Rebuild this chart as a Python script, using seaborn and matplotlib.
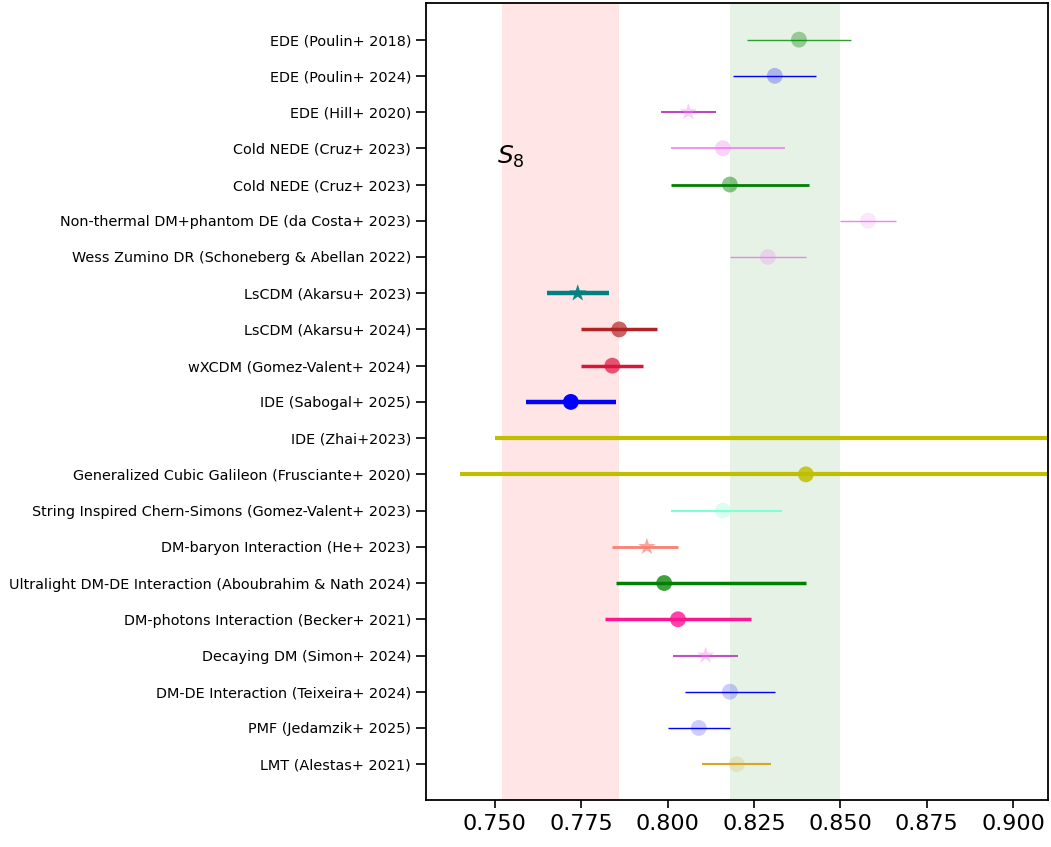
import numpy as np
import pandas as pd
import seaborn as sns
import matplotlib
matplotlib.use("Agg")
import matplotlib.pyplot as plt

labels = [
    "EDE (Poulin+ 2018)",
    "EDE (Poulin+ 2024)",
    "EDE (Hill+ 2020)",
    "Cold NEDE (Cruz+ 2023)",
    "Cold NEDE (Cruz+ 2023)",
    "Non-thermal DM+phantom DE (da Costa+ 2023)",
    "Wess Zumino DR (Schoneberg & Abellan 2022)",
    "LsCDM (Akarsu+ 2023)",
    "LsCDM (Akarsu+ 2024)",
    "wXCDM (Gomez-Valent+ 2024)",
    "IDE (Sabogal+ 2025)",
    "IDE (Zhai+2023)",
    "Generalized Cubic Galileon (Frusciante+ 2020)",
    "String Inspired Chern-Simons (Gomez-Valent+ 2023)",
    "DM-baryon Interaction (He+ 2023)",
    "Ultralight DM-DE Interaction (Aboubrahim & Nath 2024)",
    "DM-photons Interaction (Becker+ 2021)",
    "Decaying DM (Simon+ 2024)",
    "DM-DE Interaction (Teixeira+ 2024)",
    "PMF (Jedamzik+ 2025)",
    "LMT (Alestas+ 2021)",
]
s8 = [0.838, 0.831, 0.806, 0.816, 0.818, 0.858, 0.829, 0.774, 0.786, 0.784, 0.772,
      0.950, 0.840, 0.816, 0.794, 0.799, 0.803, 0.811, 0.818, 0.809, 0.820]
err_lo = [0.015, 0.012, 0.008, 0.015, 0.017, 0.008, 0.011, 0.009, 0.011, 0.009, 0.013,
          0.200, 0.100, 0.015, 0.010, 0.014, 0.021, 0.0095, 0.013, 0.009, 0.010]
err_hi = [0.015, 0.012, 0.008, 0.018, 0.023, 0.008, 0.011, 0.009, 0.011, 0.009, 0.013,
          0.050, 0.100, 0.017, 0.009, 0.041, 0.021, 0.0095, 0.013, 0.009, 0.010]
marker_colors = ["green", "blue", "violet", "violet", "green", "violet", "violet",
                 "teal", "firebrick", "crimson", "blue", "y", "y", "aquamarine",
                 "salmon", "green", "deeppink", "violet", "blue", "blue", "goldenrod"]
line_colors = ["tab:green", "blue", "#b020b8", "violet", "green", "violet", "violet",
               "teal", "firebrick", "crimson", "blue", "y", "y", "aquamarine",
               "salmon", "green", "deeppink", "#c050c8", "blue", "blue", "goldenrod"]
marker_alpha = [0.35, 0.25, 0.4, 0.35, 0.45, 0.2, 0.25, 0.95, 0.7, 0.7, 1.0,
                0.9, 0.85, 0.3, 0.7, 0.75, 0.8, 0.4, 0.2, 0.2, 0.2]
line_widths = [1.0, 1.0, 1.2, 1.2, 2.0, 1.0, 1.0, 3.2, 2.5, 2.5, 3.2,
               3.0, 3.0, 1.5, 2.0, 2.5, 2.5, 1.5, 1.0, 1.0, 1.5]
markers = ["o", "o", "*", "o", "o", "o", "o", "*", "o", "o", "o",
           "o", "o", "o", "*", "o", "o", "*", "o", "o", "o"]

# S8 bands: weak lensing and CMB
band_red = (0.752, 0.786)
band_green = (0.818, 0.850)

n = len(labels)
ypos = np.arange(n)[::-1]
df = pd.DataFrame({"label": labels, "s8": s8, "lo": err_lo, "hi": err_hi, "y": ypos})

sns.set_style("ticks", {"axes.edgecolor": "black", "xtick.color": "black",
                        "ytick.color": "black", "text.color": "black"})
plt.rcParams["font.family"] = ["DejaVu Sans"]
fig, ax = plt.subplots(figsize=(10.51, 8.47), dpi=100)
fig.subplots_adjust(left=0.405, right=0.997, top=0.996, bottom=0.055)

ax.axvspan(*band_red, color="red", alpha=0.1, lw=0)
ax.axvspan(*band_green, color="green", alpha=0.1, lw=0)

for i, row in df.iterrows():
    ax.errorbar(row["s8"], row["y"], xerr=[[row["lo"]], [row["hi"]]], fmt="none",
                ecolor=line_colors[i], elinewidth=line_widths[i], capsize=0)
    sz = 170 if markers[i] == "*" else 130
    sns.scatterplot(x=[row["s8"]], y=[row["y"]], ax=ax, marker=markers[i], s=sz,
                    color=marker_colors[i], alpha=marker_alpha[i], edgecolor="none",
                    zorder=3, legend=False)

ax.text(0.7505, 16.75, r"$S_8$", fontsize=18, va="center", ha="left", color="black")

ax.set_yticks(ypos)
ax.set_yticklabels(labels, fontsize=10.4, color="black")
ax.set_xlim(0.73, 0.91)
ax.set_ylim(-1, n)
ax.set_xticks([0.750, 0.775, 0.800, 0.825, 0.850, 0.875, 0.900])
ax.set_xticklabels(["0.750", "0.775", "0.800", "0.825", "0.850", "0.875", "0.900"],
                   color="black")
ax.tick_params(axis="x", labelsize=16, length=6, width=1.2)
ax.tick_params(axis="y", length=7, width=1.2)
for sp in ax.spines.values():
    sp.set_linewidth(1.3)
ax.set_xlabel("")
ax.set_ylabel("")

fig.savefig("out.png", dpi=100)
